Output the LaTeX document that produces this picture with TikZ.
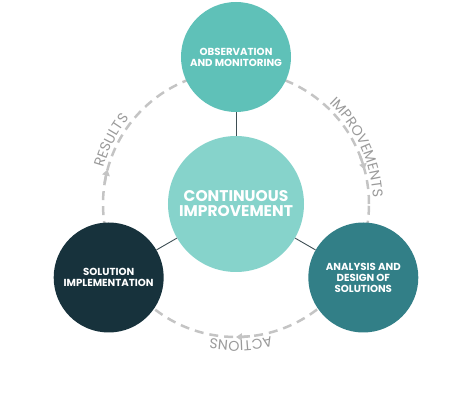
\documentclass[tikz,border=0pt]{standalone}
\usepackage{fontspec}
\setmainfont{Poppins}
\usetikzlibrary{decorations.text,arrows.meta}
\definecolor{topc}{HTML}{5FC1B8}
\definecolor{midc}{HTML}{86D3CB}
\definecolor{leftc}{HTML}{17323C}
\definecolor{rightc}{HTML}{327F87}
\definecolor{dashc}{HTML}{C4C4C4}
\definecolor{lblc}{HTML}{9A9A9A}
\definecolor{linkc}{HTML}{3E4E54}
\begin{document}
\begin{tikzpicture}[x=1pt,y=1pt,
  bubble/.style={circle, minimum size=110pt, inner sep=0pt, text=white,
    font=\bfseries\fontsize{10.2}{11}\selectfont, align=center},
  hub/.style={circle, minimum size=136pt, inner sep=0pt, text=white, fill=midc,
    font=\bfseries\fontsize{15.5}{15}\selectfont, align=center},
  link/.style={draw=linkc, line width=0.9pt},
  cyc/.style={draw=dashc, line width=2.5pt, dash pattern=on 9pt off 6pt},
  cyctip/.style={draw=dashc, line width=2.5pt, -{Triangle[width=7.5pt,length=6pt,fill=dashc]}},
  arclabel/.style={decorate, decoration={text along path, text align=center,
    text={|\color{lblc}\fontsize{14.2}{15}\selectfont|#1}}}
]
\useasboundingbox (-236,-199) rectangle (235,204);
% cycle
\draw[cyc] (0,0) circle[radius=133];
\draw[cyctip] (171:133) arc[start angle=171, end angle=165, radius=133];
\draw[cyctip] (21:133) arc[start angle=21, end angle=15, radius=133];
\draw[cyctip] (276:133) arc[start angle=276, end angle=270, radius=133];
% arc labels
\path[arclabel=RESULTS] (183:137) arc[start angle=183, end angle=123, radius=137];
\path[arclabel=IMPROVEMENTS] (60:137) arc[start angle=60, end angle=-10, radius=137];
\path[arclabel=ACTIONS] (302:137) arc[start angle=302, end angle=242, radius=137];
% nodes
\node[hub] (hub) at (0,0) {CONTINUOUS\\IMPROVEMENT};
\node[bubble, fill=topc] (obs) at (90:147) {OBSERVATION\\AND MONITORING};
\node[bubble, fill=rightc] (ana) at (330:147) {ANALYSIS AND\\DESIGN OF\\SOLUTIONS};
\node[bubble, fill=leftc] (sol) at (210:147) {SOLUTION\\IMPLEMENTATION};
% links
\draw[link] (hub) -- (obs);
\draw[link] (hub) -- (ana);
\draw[link] (hub) -- (sol);
\end{tikzpicture}
\end{document}
